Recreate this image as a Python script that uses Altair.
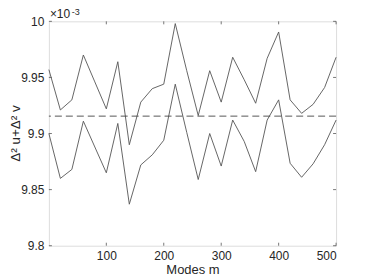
import altair as alt
import pandas as pd

modes = list(range(0, 501, 20))
upper = [9.957, 9.921, 9.930, 9.970, 9.946, 9.922, 9.964, 9.890, 9.928, 9.940,
         9.944, 9.998, 9.956, 9.916, 9.956, 9.928, 9.968, 9.948, 9.927, 9.967,
         9.9905, 9.930, 9.918, 9.926, 9.941, 9.968]
lower = [9.900, 9.860, 9.868, 9.911, 9.888, 9.865, 9.909, 9.837, 9.872, 9.881,
         9.894, 9.944, 9.901, 9.859, 9.900, 9.871, 9.912, 9.893, 9.866, 9.912,
         9.930, 9.8735, 9.861, 9.873, 9.890, 9.912]
mean_level = 9.9155
x_ticks = [100, 200, 300, 400, 500]
y_ticks = [9.8, 9.85, 9.9, 9.95, 10.0]
y_title = "Δ² u+Δ² v"

W, H = 288, 225
df = pd.DataFrame({
    "m": modes * 2,
    "v": upper + lower,
    "s": ["upper"] * len(modes) + ["lower"] * len(modes),
})

xs = alt.Scale(domain=[0, 500], nice=False)
ys = alt.Scale(domain=[9.8, 10.0], nice=False)
font = "Liberation Sans"

lines = alt.Chart(df).mark_line(color="#555555", strokeWidth=0.9).encode(
    x=alt.X("m:Q", scale=xs,
            axis=alt.Axis(values=x_ticks, title="Modes m", grid=False, domain=False,
                          ticks=False, labelPadding=5, titlePadding=2,
                          labelFontSize=12, titleFontSize=13, labelColor="#262626",
                          titleColor="#262626", titleFontWeight="normal",
                          labelFont=font, titleFont=font)),
    y=alt.Y("v:Q", scale=ys,
            axis=alt.Axis(values=y_ticks, title=None, grid=False, domain=False,
                          ticks=False, labelPadding=5,
                          labelFontSize=12, labelColor="#262626",
                          labelFont=font,
                          labelExpr="datum.value == 10 ? '10' : format(datum.value, '.2~f')")),
    detail="s:N",
)

dash = alt.Chart(pd.DataFrame({"y": [mean_level]})).mark_rule(
    color="#444444", strokeDash=[7, 4], strokeWidth=0.9
).encode(y=alt.Y("y:Q", scale=ys))

xt = pd.DataFrame({"m": x_ticks})
yt = pd.DataFrame({"v": y_ticks})
tick_style = dict(color="#555555", strokeWidth=0.8)
xb = alt.Chart(xt).mark_rule(**tick_style).encode(
    x=alt.X("m:Q", scale=xs), y=alt.value(H), y2=alt.value(H - 3))
xtp = alt.Chart(xt).mark_rule(**tick_style).encode(
    x=alt.X("m:Q", scale=xs), y=alt.value(0), y2=alt.value(3))
yl = alt.Chart(yt).mark_rule(**tick_style).encode(
    y=alt.Y("v:Q", scale=ys), x=alt.value(0), x2=alt.value(3))
yr = alt.Chart(yt).mark_rule(**tick_style).encode(
    y=alt.Y("v:Q", scale=ys), x=alt.value(W), x2=alt.value(W - 3))

ytitle = alt.Chart(pd.DataFrame({"t": [y_title]})).mark_text(
    angle=270, align="center", baseline="middle", fontSize=13.5, font=font, color="#262626"
).encode(text="t:N", x=alt.value(-33), y=alt.value(H / 2))

exp1 = alt.Chart(pd.DataFrame({"t": ["×10"]})).mark_text(
    align="left", baseline="alphabetic", fontSize=12, font=font, color="#262626"
).encode(text="t:N", x=alt.value(1), y=alt.value(-3))
exp2 = alt.Chart(pd.DataFrame({"t": ["-3"]})).mark_text(
    align="left", baseline="top", fontSize=9, font=font, color="#262626"
).encode(text="t:N", x=alt.value(23), y=alt.value(-13))

chart = alt.layer(lines, dash, xb, xtp, yl, yr, ytitle, exp1, exp2).properties(
    width=W, height=H,
    autosize=alt.AutoSizeParams(type="none"),
    padding={"left": 41, "top": 13, "right": 30, "bottom": 32},
).configure_view(stroke="#555555", strokeWidth=0.8).configure(background="white")

chart.save("out.html", embed_options={"renderer": "svg", "actions": False})
